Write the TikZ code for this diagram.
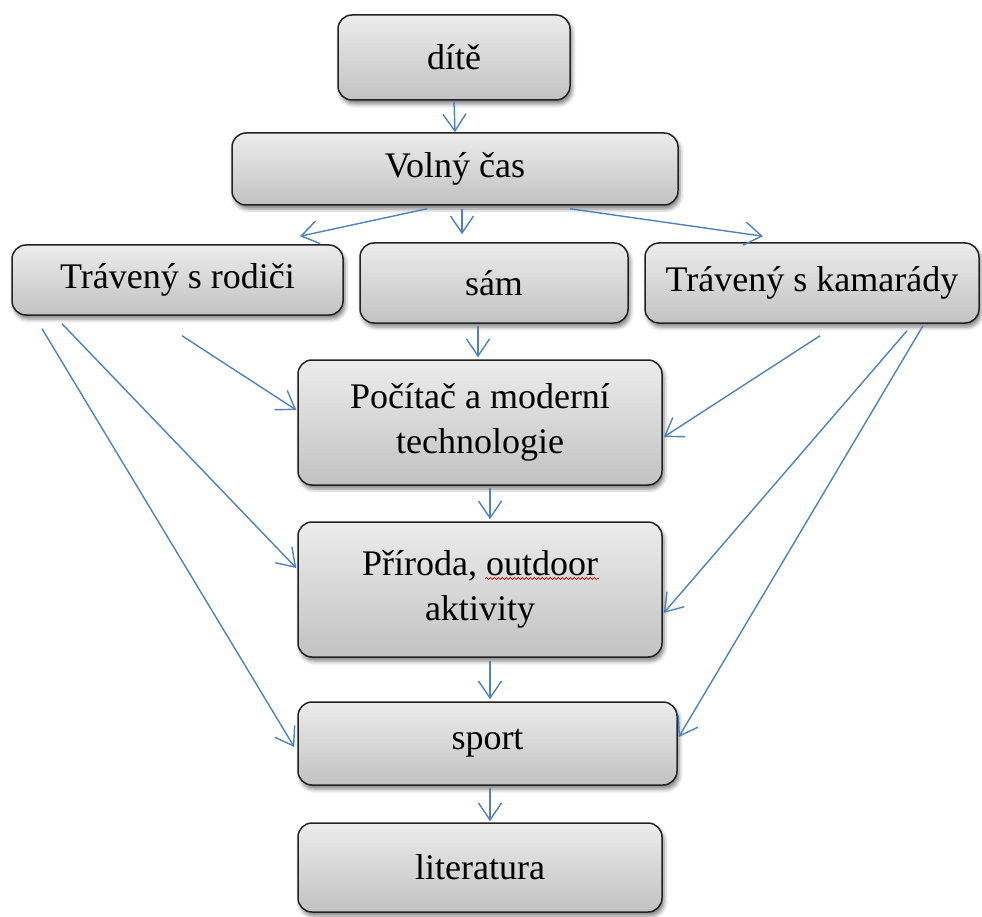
\documentclass[tikz,border=0pt]{standalone}
\usepackage{fontspec}
\setmainfont{Liberation Serif}
\usetikzlibrary{arrows.meta,calc,shadows.blur,decorations.pathmorphing}

\definecolor{linkblue}{HTML}{4F81BD}
\definecolor{boxtop}{RGB}{236,236,236}
\definecolor{boxbottom}{RGB}{194,194,194}
\definecolor{boxedge}{RGB}{35,35,35}

\tikzset{
  stagebox/.style={
    draw=boxedge, line width=1.5pt, rounded corners=14pt,
    top color=boxtop, bottom color=boxbottom,
    blur shadow={shadow xshift=2pt, shadow yshift=-4pt,
                 shadow blur radius=4pt, shadow opacity=50},
    inner sep=0pt, align=center, text=black,
    font=\fontsize{36}{45}\selectfont
  },
  link/.style={
    draw=linkblue, line width=1.4pt,
    -{Straight Barb[length=17pt,width=23pt,line width=1.4pt]}
  }
}

\begin{document}
\begin{tikzpicture}[x=1pt, y=-1pt]
\useasboundingbox (0,0) rectangle (982,917);

% boxes
\node[stagebox, minimum width=232pt, minimum height=85pt]  (dite) at (454,57.5)  {dítě};
\node[stagebox, minimum width=446pt, minimum height=72pt]  (vc)   at (455,169)   {Volný čas};
\node[stagebox, minimum width=331pt, minimum height=70pt]  (rod)  at (177.5,280) {Trávený s rodiči};
\node[stagebox, minimum width=268pt, minimum height=80pt]  (sam)  at (494,283)   {sám};
\node[stagebox, minimum width=334pt, minimum height=80pt]  (kam)  at (812,283)   {Trávený s kamarády};
\node[stagebox, minimum width=364pt, minimum height=125pt] (poc)  at (480,422.5) {Počítač a moderní\\technologie};
\node[stagebox, minimum width=364pt, minimum height=135pt] (prir) at (480,589.5) {Příroda, outdoor\\aktivity};
\node[stagebox, minimum width=379pt, minimum height=83pt]  (sport) at (487.5,743.5) {sport};
\node[stagebox, minimum width=364pt, minimum height=89pt]  (lit)  at (480,867.5) {literatura};

% spell-check squiggle under "outdoor"
\draw[red!85!black, line width=0.7pt,
      decorate, decoration={snake, segment length=4pt, amplitude=0.9pt}]
  ($(prir.center)+(5,-11)$) -- ($(prir.center)+(119,-11)$);

% main vertical chain
\draw[link] (dite.south) -- (vc.north);
\draw[link] ($(vc.south)+(-28,3)$) -- ($(rod.north)+(122.5,-8)$);
\draw[link] ($(vc.south)+(7,3)$)   -- ($(sam.north)+(-32,-8)$);
\draw[link] ($(vc.south)+(115,3)$) -- ($(kam.north)+(-49,-6)$);
\draw[link] ($(sam.south)+(-16,2)$) -- ($(poc.north)+(-2,-2)$);
\draw[link] ($(poc.south)+(10,2)$)  -- ($(prir.north)+(10,-2)$);
\draw[link] ($(prir.south)+(10,3)$) -- ($(sport.north)+(2.5,-2)$);
\draw[link] ($(sport.south)+(2.5,2)$) -- ($(lit.north)+(10,-1)$);

% from "Trávený s rodiči"
\draw[link] ($(rod.south)+(4.5,20)$)    -- ($(poc.west)+(-1,-12.5)$);
\draw[link] ($(rod.south)+(-115.5,8)$)  -- ($(prir.west)+(-1,-21.5)$);
\draw[link] ($(rod.south)+(-135.5,13)$) -- ($(sport.west)+(-3,3.5)$);

% from "Trávený s kamarády"
\draw[link] ($(kam.south)+(8,12)$)  -- ($(poc.east)+(1,14.5)$);
\draw[link] ($(kam.south)+(95,7)$)  -- ($(prir.east)+(1,23.5)$);
\draw[link] ($(kam.south)+(111,2)$) -- ($(sport.east)+(1,-6.5)$);
\end{tikzpicture}
\end{document}
